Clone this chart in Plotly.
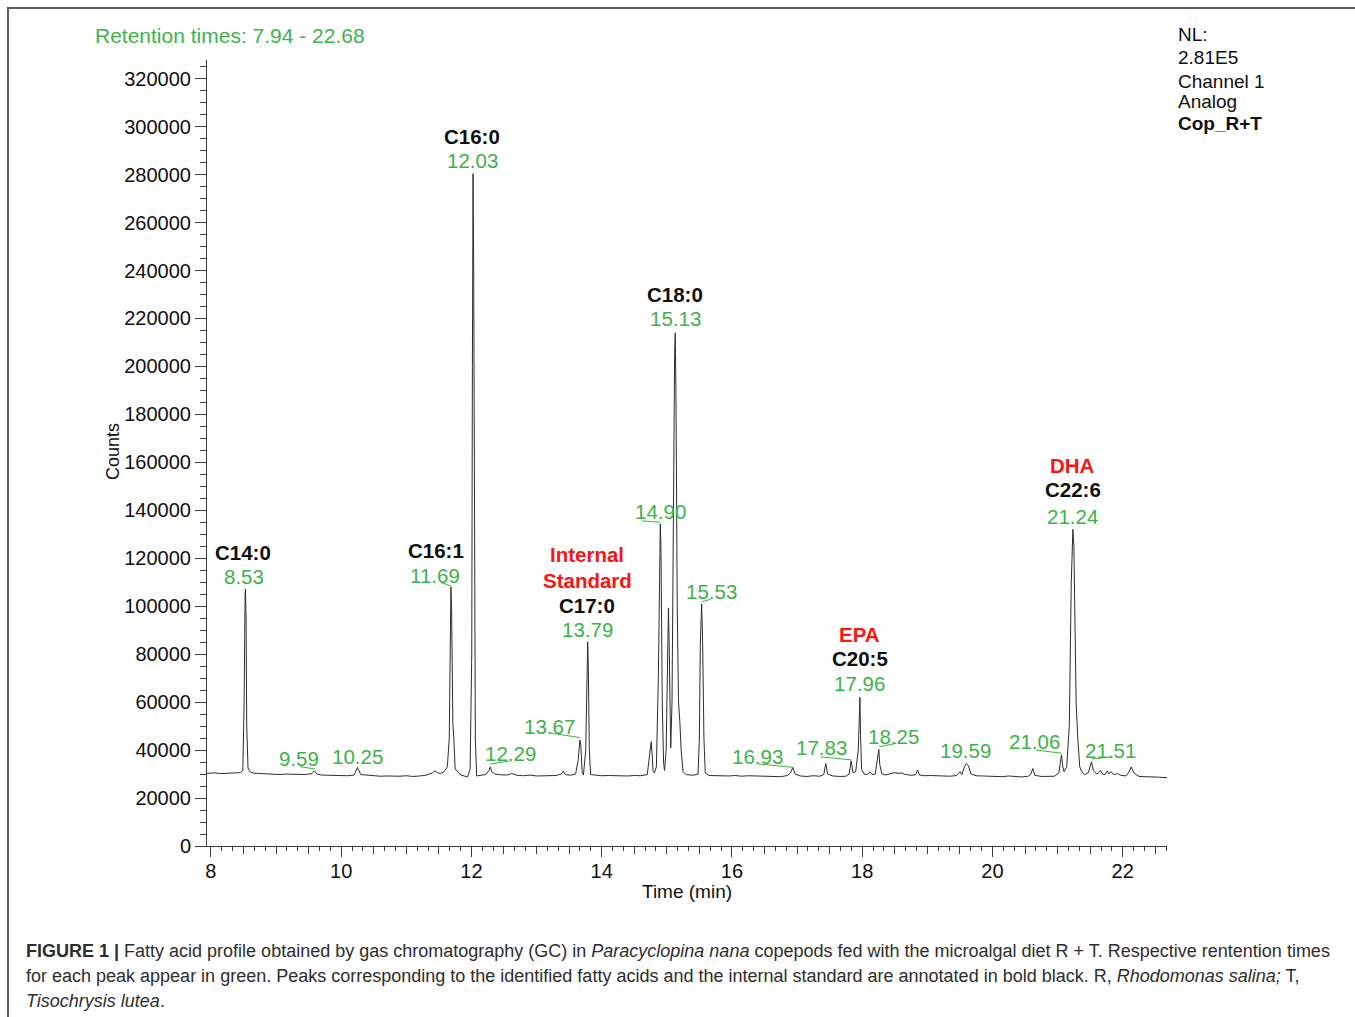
import plotly.graph_objects as go

# ---------------- data ----------------
time_min = [
    7.94, 8.05, 8.15, 8.25, 8.35, 8.45,
    8.49, 8.51, 8.525, 8.53, 8.54, 8.55, 8.57, 8.60, 8.65,
    8.75, 8.85, 8.95, 9.05, 9.15, 9.25, 9.35, 9.45, 9.55, 9.59, 9.63, 9.70, 9.80, 9.90,
    10.00, 10.10, 10.20, 10.25, 10.30, 10.40, 10.50, 10.60, 10.70, 10.80, 10.90, 11.00,
    11.10, 11.20, 11.30, 11.40, 11.44, 11.48, 11.52, 11.58, 11.63,
    11.66, 11.675, 11.685, 11.695, 11.705, 11.715, 11.73, 11.75, 11.77, 11.80, 11.85, 11.90, 11.94, 11.98,
    12.005, 12.015, 12.025, 12.035, 12.045, 12.06, 12.08, 12.15, 12.22, 12.27, 12.29, 12.31, 12.36,
    12.45, 12.55, 12.62, 12.70, 12.80, 12.90, 13.00, 13.10, 13.20, 13.30, 13.38, 13.41, 13.44,
    13.52, 13.60, 13.64, 13.665, 13.68, 13.70, 13.72, 13.755, 13.775, 13.785, 13.795, 13.81, 13.83,
    13.90, 14.00, 14.10, 14.20, 14.30, 14.40, 14.50, 14.60, 14.70, 14.73, 14.745, 14.76, 14.775,
    14.79, 14.81, 14.84, 14.87, 14.89, 14.90, 14.91, 14.93, 14.95, 14.965, 14.99, 15.01, 15.025,
    15.035, 15.05, 15.06, 15.08, 15.10, 15.12, 15.13, 15.14, 15.16, 15.18, 15.20, 15.22, 15.25,
    15.30, 15.40, 15.48, 15.50, 15.515, 15.535, 15.55, 15.57, 15.59, 15.65, 15.75, 15.85, 15.95,
    16.05, 16.15, 16.25, 16.35, 16.45, 16.55, 16.65, 16.75, 16.85, 16.90, 16.935, 16.97,
    17.05, 17.15, 17.25, 17.35, 17.41, 17.44, 17.47, 17.55, 17.65, 17.75, 17.80, 17.83, 17.86,
    17.90, 17.94, 17.955, 17.965, 17.975, 17.99, 18.03, 18.08, 18.12, 18.15, 18.20, 18.24, 18.255,
    18.27, 18.30, 18.35, 18.45, 18.50, 18.55, 18.60, 18.65, 18.75, 18.82, 18.85, 18.88, 18.95,
    19.05, 19.15, 19.25, 19.35, 19.45, 19.50, 19.53, 19.57, 19.60, 19.63, 19.67, 19.75, 19.85,
    19.95, 20.05, 20.15, 20.25, 20.35, 20.45, 20.55, 20.59, 20.62, 20.65, 20.75, 20.85, 20.95,
    21.02, 21.05, 21.06, 21.08, 21.10, 21.14, 21.18, 21.21, 21.235, 21.25, 21.27, 21.285, 21.31,
    21.34, 21.37, 21.42, 21.47, 21.50, 21.52, 21.55, 21.60, 21.63, 21.66, 21.69, 21.73, 21.76,
    21.79, 21.82, 21.86, 21.92, 21.97, 22.05, 22.10, 22.13, 22.17, 22.25, 22.35, 22.45, 22.55, 22.68,
]
counts = [
    30300, 30500, 30200, 30400, 30300, 30600,
    31500, 60000, 105000, 107200, 95000, 50000, 32500, 31000, 30400,
    30200, 30000, 30100, 29800, 30000, 29900, 29700, 29800, 30200, 31300, 30000, 29600, 29500, 29400,
    29600, 29300, 29600, 32800, 29800, 29500, 29300, 29100, 29200, 29000, 29100, 29300,
    29000, 29200, 29500, 30500, 31300, 30600, 30200, 31000, 33000,
    45000, 90000, 108000, 100000, 70000, 51000, 45000, 32000, 31700, 30500, 29500, 29000, 28800, 32000,
    80000, 200000, 280400, 240000, 120000, 45000, 29200, 29500, 29800, 31500, 33000, 31000, 30000,
    29700, 29600, 30200, 29500, 29300, 29600, 29200, 29300, 29100, 29400, 30000, 31300, 29800,
    29500, 30000, 36000, 44200, 42000, 31000, 29600, 40000, 80000, 85100, 75000, 40000, 29800,
    29500, 29300, 29400, 29300, 29500, 29200, 29400, 29300, 29800, 36000, 40000, 43500, 38000,
    31000, 30500, 33000, 70000, 130000, 134300, 125000, 60000, 35000, 31500, 40000, 85000, 99300,
    86000, 60000, 40900, 60000, 150000, 205000, 214000, 190000, 100000, 60000, 52000, 40000, 31000,
    29800, 29500, 30000, 45000, 84600, 101000, 85000, 45000, 30500, 29400, 29300, 29500, 29200,
    29400, 29100, 29300, 29200, 29000, 29200, 29100, 28900, 29400, 30500, 32800, 30000,
    29200, 29000, 29300, 29100, 29800, 34400, 30000, 29200, 29000, 29100, 30000, 35500, 30500,
    31000, 40000, 55000, 62000, 46000, 32000, 30000, 29800, 31000, 29800, 30000, 38000, 40300,
    34000, 30200, 29600, 30400, 30600, 30300, 30500, 29900, 29500, 29700, 31700, 29600, 29300,
    29400, 29200, 29300, 29100, 29400, 31000, 29800, 33000, 34400, 33500, 30000, 29300, 29200,
    29000, 29100, 28900, 29200, 29000, 28800, 29100, 30000, 32300, 29500, 29000, 28900, 29100,
    30500, 37000, 38000, 33000, 31000, 33000, 50000, 110000, 132100, 125000, 80000, 59600, 45000,
    33000, 31000, 29800, 30500, 34000, 35100, 31500, 30000, 30500, 31500, 30000, 29800, 31200,
    30100, 31000, 29800, 30200, 29500, 29200, 31000, 33000, 30500, 29000, 28800, 28600, 28700, 28500,
]

# peak labels: (text, colour key, x in minutes, y in counts)
peak_labels = [
    ("C14:0", "k", 8.50, 122600), ("8.53", "g", 8.51, 112200),
    ("9.59", "g", 9.354, 36300), ("10.25", "g", 10.245, 37500),
    ("C16:1", "k", 11.46, 123400), ("11.69", "g", 11.444, 113000),
    ("C16:0", "k", 12.013, 296100), ("12.03", "g", 12.013, 285700),
    ("12.29", "g", 12.597, 38400), ("13.67", "g", 13.196, 50000),
    ("Internal", "r", 13.78, 121400), ("Standard", "r", 13.78, 110900),
    ("C17:0", "k", 13.78, 100500), ("13.79", "g", 13.78, 90100),
    ("14.90", "g", 14.90, 139600),
    ("C18:0", "k", 15.13, 230200), ("15.13", "g", 15.13, 219800),
    ("15.53", "g", 15.68, 106300), ("16.93", "g", 16.39, 37500),
    ("17.83", "g", 17.376, 40900),
    ("EPA", "r", 17.96, 88400), ("C20:5", "k", 17.96, 78000), ("17.96", "g", 17.96, 67600),
    ("18.25", "g", 18.483, 45500), ("19.59", "g", 19.59, 40000), ("21.06", "g", 20.65, 43400),
    ("DHA", "r", 21.234, 158500), ("C22:6", "k", 21.234, 148500), ("21.24", "g", 21.234, 137600),
    ("21.51", "g", 21.817, 40000),
]

# green leader lines (x0, y0, x1, y1) in minutes / counts
leaders = [
    (9.369, 33070, 9.600, 32100), (11.532, 109900, 11.69, 108400),
    (12.289, 34200, 12.581, 35400), (13.211, 47100, 13.672, 45200),
    (14.621, 135600, 14.902, 135000), (15.543, 101900, 15.671, 102900),
    (16.408, 34200, 16.937, 32800), (17.361, 37200, 17.838, 35900),
    (18.26, 41400, 18.524, 42800), (20.671, 40000, 21.064, 38700),
    (21.525, 36300, 21.848, 37200),
]

info_lines = ["NL:", "2.81E5", "Channel 1", "Analog", "<b>Cop_R+T</b>"]

x_major = [8, 10, 12, 14, 16, 18, 20, 22]
x_half = [8 + 0.5 * i for i in range(30)]

caption_lines = [
    "<b>FIGURE 1 |</b> Fatty acid profile obtained by gas chromatography (GC) in <i>Paracyclopina nana</i> copepods fed with the microalgal diet R + T. Respective rentention times",
    "for each peak appear in green. Peaks corresponding to the identified fatty acids and the internal standard are annotated in bold black. R, <i>Rhodomonas salina;</i> T,",
    "<i>Tisochrysis lutea</i>.",
]

# ---------------- figure ----------------
W, H = 1355, 1017
L, R, T, B = 207, 1355 - 1167, 60, 1017 - 846
PW, PH = W - L - R, H - T - B


def px(xp):
    return (xp - L) / PW


def py(yp):
    return (H - B - yp) / PH


GREEN = "rgb(62,178,72)"
RED = "rgb(250,20,20)"
BLACK = "rgb(15,15,15)"
FONT = "Liberation Sans, Arial, sans-serif"
colmap = {"g": GREEN, "r": RED, "k": BLACK}

fig = go.Figure()
fig.add_trace(go.Scatter(x=time_min, y=counts, mode="lines",
                         line=dict(color="rgb(45,45,45)", width=1),
                         hoverinfo="skip", showlegend=False))
# invisible trace on overlay axis (for the long 2-min ticks)
fig.add_trace(go.Scatter(x=[time_min[0]], y=[counts[0]], xaxis="x2", mode="markers",
                         marker=dict(opacity=0), showlegend=False, hoverinfo="skip"))

for x0, y0, x1, y1 in leaders:
    fig.add_shape(type="line", x0=x0, y0=y0, x1=x1, y1=y1, xref="x", yref="y",
                  line=dict(color=GREEN, width=1))

for text, c, x, y in peak_labels:
    t = text if c == "g" else "<b>" + text + "</b>"
    fig.add_annotation(x=x, y=y, xref="x", yref="y", text=t, showarrow=False,
                       font=dict(family=FONT, size=20.5, color=colmap[c]),
                       xanchor="center", yanchor="middle")

fig.add_annotation(x=px(93), y=py(36), xref="paper", yref="paper",
                   text="Retention times: 7.94 - 22.68", showarrow=False,
                   xanchor="left", yanchor="middle",
                   font=dict(family=FONT, size=21, color=GREEN))

for line, yy in zip(info_lines, [35, 57, 81, 101, 124]):
    fig.add_annotation(x=px(1176), y=py(yy), xref="paper", yref="paper", text=line,
                       showarrow=False, xanchor="left", yanchor="middle",
                       font=dict(family=FONT, size=19, color=BLACK))

fig.add_annotation(x=px(113), y=py(452), xref="paper", yref="paper", text="Counts",
                   textangle=-90, showarrow=False, xanchor="center", yanchor="middle",
                   font=dict(family=FONT, size=18, color=BLACK))
fig.add_annotation(x=px(687), y=py(892), xref="paper", yref="paper", text="Time (min)",
                   showarrow=False, xanchor="center", yanchor="middle",
                   font=dict(family=FONT, size=19, color=BLACK))

for line, yy in zip(caption_lines, [951, 976, 1001]):
    fig.add_annotation(x=px(24), y=py(yy), xref="paper", yref="paper", text=line,
                       showarrow=False, xanchor="left", yanchor="middle",
                       font=dict(family=FONT, size=18, color="rgb(45,45,45)"))

# outer frame
fig.add_shape(type="rect", xref="paper", yref="paper",
              x0=px(8), x1=px(1362), y0=py(8), y1=py(1025),
              line=dict(color="rgb(90,90,90)", width=2), fillcolor="rgba(0,0,0,0)")

axis_col = "rgb(60,60,60)"
fig.update_layout(
    width=W, height=H,
    margin=dict(l=L, r=R, t=T, b=B, pad=0),
    paper_bgcolor="white", plot_bgcolor="white",
    font=dict(family=FONT, color=BLACK),
    xaxis=dict(range=[7.94, 22.68], tickmode="array", tickvals=x_half,
               ticktext=[str(int(v)) if v in x_major else "" for v in x_half],
               ticks="outside", ticklen=7, tickcolor=axis_col, tickwidth=1,
               minor=dict(tick0=8, dtick=1 / 6, ticks="outside", ticklen=4,
                          tickcolor=axis_col, tickwidth=1),
               showline=True, linecolor=axis_col, linewidth=1, showgrid=False,
               zeroline=False, tickfont=dict(family=FONT, size=20, color=BLACK),
               fixedrange=True),
    xaxis2=dict(range=[7.94, 22.68], overlaying="x", anchor="y", side="bottom",
                tickmode="array", tickvals=x_major, ticks="outside", ticklen=10,
                tickcolor=axis_col, showticklabels=False, showline=False,
                showgrid=False, zeroline=False),
    yaxis=dict(range=[0, 327800], dtick=20000, tick0=0, tickformat="d",
               ticks="outside", ticklen=11, tickcolor=axis_col, tickwidth=1,
               minor=dict(dtick=5000, ticks="outside", ticklen=6,
                          tickcolor=axis_col, tickwidth=1),
               showline=True, linecolor=axis_col, linewidth=1, showgrid=False,
               zeroline=False, tickfont=dict(family=FONT, size=20, color=BLACK)),
    showlegend=False,
)

fig.write_html("out.html")
